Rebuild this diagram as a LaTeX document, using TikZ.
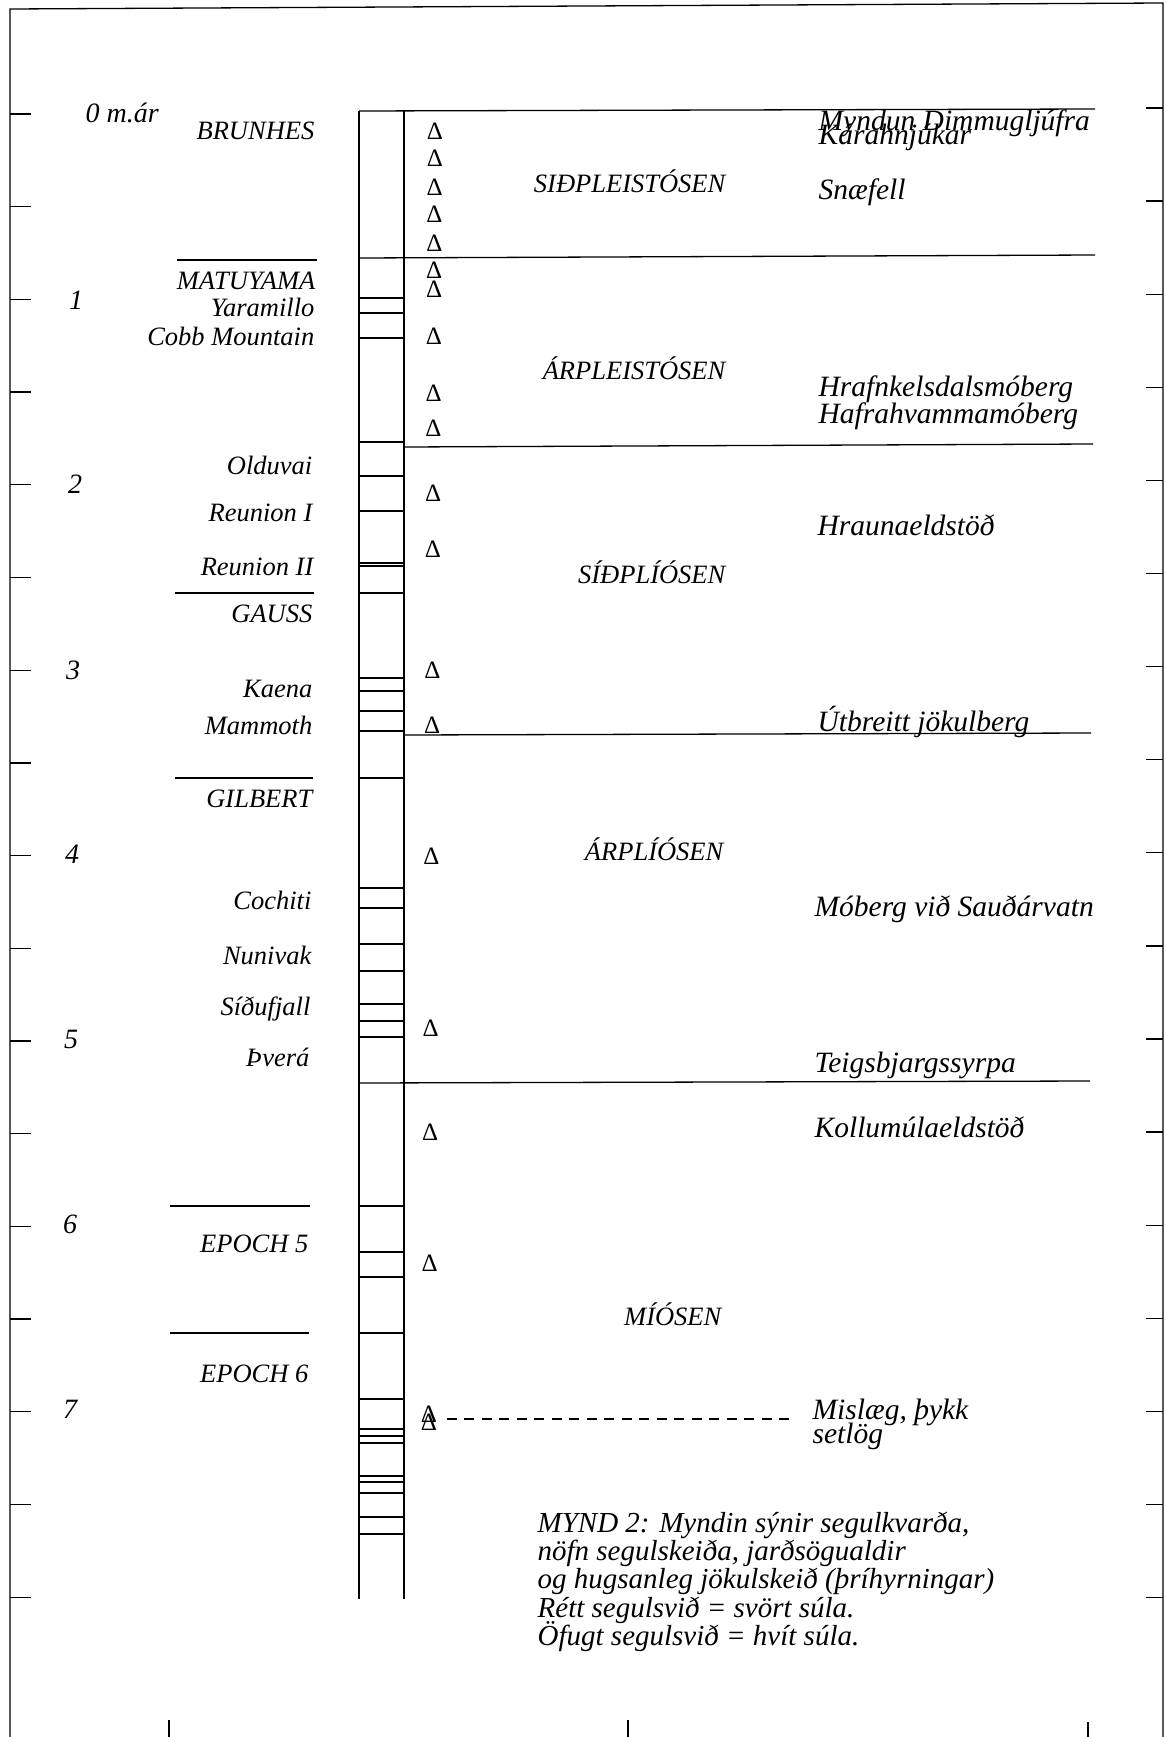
\documentclass[tikz,border=0pt]{standalone}
\usepackage{fontspec}
\setmainfont{Liberation Serif}
\begin{document}
\begin{tikzpicture}[x=1pt,y=-1pt,line width=1.3pt,
  lbl/.style={font=\itshape\fontsize{28}{30}\selectfont, inner sep=0pt},
  lft/.style={font=\itshape\fontsize{26.5}{30}\selectfont, inner sep=0pt, anchor=base east},
  rgt/.style={font=\itshape\fontsize{29.5}{30}\selectfont, inner sep=0pt, anchor=base west},
  captxt/.style={font=\itshape\fontsize{29}{30}\selectfont, inner sep=0pt, anchor=base west},
  epo/.style={font=\itshape\fontsize{26.5}{30}\selectfont, inner sep=0pt, anchor=base east},
  num/.style={lbl, anchor=base},
  tri/.style={font=\fontsize{25}{25}\selectfont, inner sep=0pt, anchor=center},
  dline/.style={line width=1.3pt, dash pattern=on 10pt off 7.5pt}]
\useasboundingbox (0,0) rectangle (1165,1737);
% frame
\draw (10,1737) -- (10,9) -- (1163,3) -- (1163,1737);
\foreach \i in {0,...,16} {
  \draw (10,{114+92.7*\i}) -- (31,{114+92.7*\i});
  \draw (1146,{108+93.1*\i}) -- (1163,{108+93.1*\i});
}
\draw (169,1720) -- (169,1737);
\draw (628,1720) -- (628,1737);
\draw (1088,1722) -- (1088,1737);
% scale numbers
\node[lbl, anchor=base west] (n0) at (85,122) {0 m.ár};
\node[num] (n1) at (76,309) {1};
\node[num] (n2) at (75,493) {2};
\node[num] (n3) at (73,679) {3};
\node[num] (n4) at (72,863) {4};
\node[num] (n5) at (71,1048) {5};
\node[num] (n6) at (70,1233) {6};
\node[num] (n7) at (70,1418) {7};
% column
\draw (359,111) -- (359,1599);
\draw (404,111) -- (404,1599);
\foreach \y in {298,313,338,442,476,511,563,566,593,678,691,711,731,778,888,908,944,971,1004,1021,1037,1206,1252,1277,1333,1399,1429,1436,1443,1476,1482,1493,1517,1534}
  \draw (359,\y) -- (404,\y);
% epoch boundary lines
\draw (359,111) -- (1095,109);
\draw (359,258) -- (1095,255);
\draw (404,447) -- (1093,444);
\draw (404,735) -- (1091,733);
\draw (359,1083) -- (1090,1081);
% left divider lines
\draw (177,260) -- (317,260);
\draw (175,593) -- (314,593);
\draw (175,778) -- (313,778);
\draw (170,1206) -- (310,1206);
\draw (170,1333) -- (309,1333);
% left labels
\node[lft] (brunhes) at (315,139) {BRUNHES};
\node[lft] (matuyama) at (316,289) {MATUYAMA};
\node[lft] (yaramillo) at (315,316) {Yaramillo};
\node[lft] (cobb) at (315,345) {Cobb Mountain};
\node[lft] (olduvai) at (313,474) {Olduvai};
\node[lft] (reunion1) at (313,521) {Reunion I};
\node[lft] (reunion2) at (314,575) {Reunion II};
\node[lft] (gauss) at (313,622) {GAUSS};
\node[lft] (kaena) at (313,697) {Kaena};
\node[lft] (mammoth) at (313,734) {Mammoth};
\node[lft] (gilbert) at (313,807) {GILBERT};
\node[lft] (cochiti) at (312,909) {Cochiti};
\node[lft] (nunivak) at (312,964) {Nunivak};
\node[lft] (sidufjall) at (311,1015) {Síðufjall};
\node[lft] (thvera) at (310,1066) {Þverá};
\node[lft] (epoch5) at (309,1252) {EPOCH 5};
\node[lft] (epoch6) at (309,1382) {EPOCH 6};
% triangles
\foreach \y [count=\k] in {131,158,187,214,243,270,289,336,393,428,493,549,670,725,856,1028,1132,1263,1414,1422}
  \node[tri] (t\k) at ({435-0.0047*(\y-112)},\y) {Δ};
% epoch names
\node[epo] (e1) at (726,192) {SIÐPLEISTÓSEN};
\node[epo] (e2) at (726,379) {ÁRPLEISTÓSEN};
\node[epo] (e3) at (726,583) {SÍÐPLÍÓSEN};
\node[epo] (e4) at (724,860) {ÁRPLÍÓSEN};
\node[epo] (e5) at (722,1325) {MÍÓSEN};
% right labels
\node[rgt] (r1) at (818,130) {Myndun Dimmugljúfra};
\node[rgt] (r2) at (818,144) {Kárahnjúkar};
\node[rgt] (r3) at (818,199) {Snæfell};
\node[rgt] (r4) at (818,396) {Hrafnkelsdalsmóberg};
\node[rgt] (r5) at (818,423) {Hafrahvammamóberg};
\node[rgt] (r6) at (817,535) {Hraunaeldstöð};
\node[rgt] (r7) at (817,731) {Útbreitt jökulberg};
\node[rgt] (r8) at (814,916) {Móberg við Sauðárvatn};
\node[rgt] (r9) at (814,1072) {Teigsbjargssyrpa};
\node[rgt] (r10) at (814,1137) {Kollumúlaeldstöð};
\node[rgt] (mis) at (812,1419) {Mislæg, þykk};
\node[rgt] (mis2) at (812,1443) {setlög};
\coordinate (dend) at (793,1419);
\draw[dline] ([xshift=9pt]t20.east |- dend) -- (dend);
% caption
\node[captxt] (c1) at (537,1532) {MYND 2: Myndin sýnir segulkvarða,};
\node[captxt] (c2) at (537,1560) {nöfn segulskeiða, jarðsögualdir};
\node[captxt] (c3) at (537,1588) {og hugsanleg jökulskeið (þríhyrningar)};
\node[captxt] (c4) at (537,1617) {Rétt segulsvið = svört súla.};
\node[captxt] (c5) at (537,1645) {Öfugt segulsvið = hvít súla.};
\end{tikzpicture}
\end{document}
